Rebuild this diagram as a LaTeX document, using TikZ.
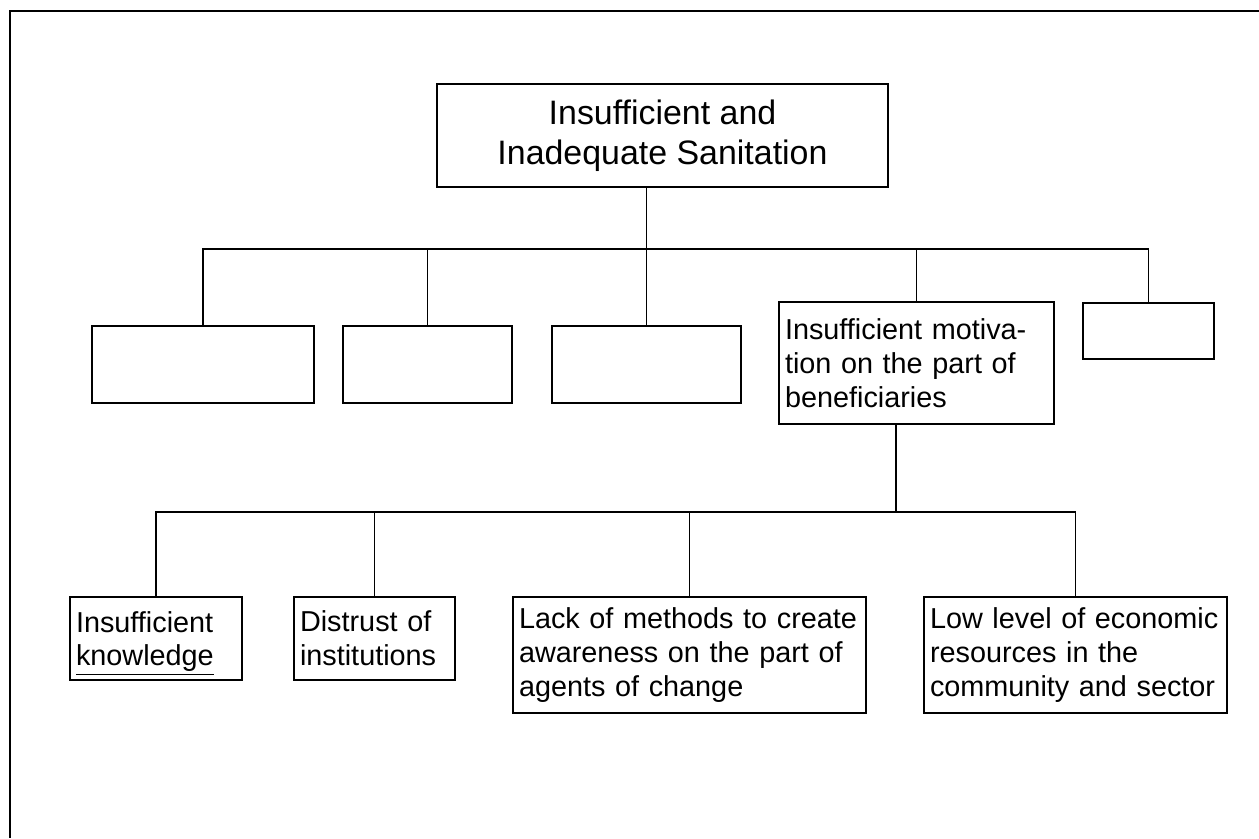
\documentclass[tikz,border=0pt]{standalone}
\usepackage{fontspec}
\setmainfont{Liberation Sans}
\usepackage{tikz}

\begin{document}
\begin{tikzpicture}[scale=0.2, line width=0.95pt]
\tikzstyle{every node}+=[inner sep=0pt]
\tikzstyle{headbox}=[draw, align=center, font=\fontsize{19.3}{22.6}\selectfont]
\tikzstyle{causebox}=[draw, align=left, inner xsep=0.12cm, font=\fontsize{16.4}{19.2}\selectfont]
\useasboundingbox (0,0) rectangle (125.9,-83.8);
\draw [black, line width=1.5pt] (125.9,-1.1) -- (1.0,-1.1) -- (1.0,-83.8);
\node [headbox, minimum width=9.02cm, minimum height=2.06cm] (top) at (66.25,-13.55) {Insufficient and\\Inadequate Sanitation};
\node [causebox, minimum width=4.44cm, minimum height=1.54cm] (b1) at (20.3,-36.45) {};
\node [causebox, minimum width=3.38cm, minimum height=1.54cm] (b2) at (42.75,-36.45) {};
\node [causebox, minimum width=3.78cm, minimum height=1.54cm] (b3) at (64.65,-36.45) {};
\node [causebox, text width=5.26cm, minimum height=2.44cm] (b4) at (91.65,-36.3) {Insufficient motiva-\\tion on the part of\\beneficiaries};
\node [causebox, minimum width=2.62cm, minimum height=1.12cm] (b5) at (114.85,-33.1) {};
\node [causebox, text width=3.2cm, minimum height=1.66cm] (know) at (15.6,-63.85) {Insufficient\\\smash{\underline{knowledge}}};
\node [causebox, text width=2.98cm, minimum height=1.66cm] (trust) at (37.45,-63.85) {Distrust of\\institutions};
\node [causebox, text width=6.82cm, minimum height=2.32cm] (aware) at (68.95,-65.5) {Lack of methods to create\\awareness on the part of\\agents of change};
\node [causebox, text width=5.82cm, minimum height=2.32cm] (money) at (107.55,-65.5) {Low level of economic\\resources in the\\community and sector};
\coordinate (bus1) at (64.65,-24.9);
\coordinate (bus2) at (89.6,-51.2);
\draw [black] (top.south -| b3.north) -- (b3.north);
\draw [black] (b1.north) |- (bus1) -| (b5.north);
\draw [black] (b2.north) -- (b2.north |- bus1);
\draw [black] (b4.north) -- (b4.north |- bus1);
\draw [black] (b4.south -| bus2) -- (bus2);
\draw [black] (know.north) |- (bus2) -| (money.north);
\draw [black] (trust.north) -- (trust.north |- bus2);
\draw [black] (aware.north) -- (aware.north |- bus2);
\end{tikzpicture}
\end{document}
